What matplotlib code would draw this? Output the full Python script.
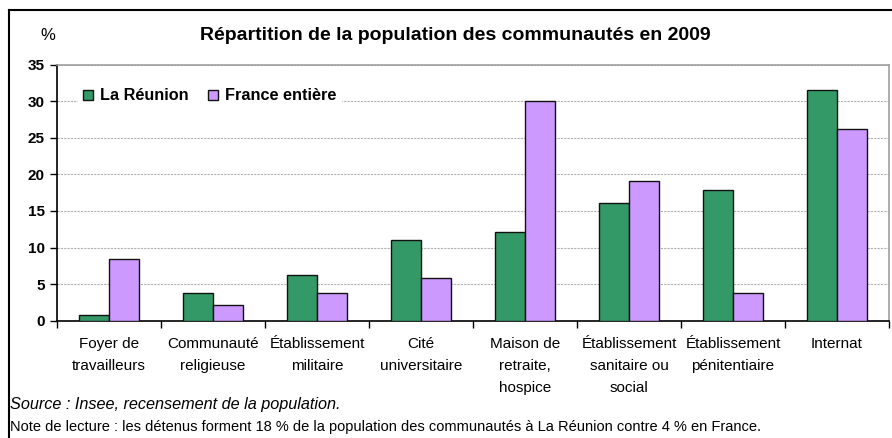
import matplotlib
matplotlib.use("Agg")
import matplotlib.pyplot as plt
import numpy as np
from matplotlib.lines import Line2D

categories = ["Foyer de\ntravailleurs", "Communauté\nreligieuse", "Établissement\nmilitaire",
              "Cité\nuniversitaire", "Maison de\nretraite,\nhospice", "Établissement\nsanitaire ou\nsocial",
              "Établissement\npénitentiaire", "Internat"]
reunion = [0.8, 3.8, 6.2, 11.1, 12.1, 16.1, 17.9, 31.5]
france = [8.5, 2.2, 3.8, 5.8, 30.1, 19.1, 3.8, 26.2]
series_names = ["La Réunion", "France entière"]
yticks = [0, 5, 10, 15, 20, 25, 30, 35]

plt.rcParams['font.family'] = ['Liberation Sans', 'DejaVu Sans']

W, H = 892, 438
fig = plt.figure(figsize=(W / 100, H / 100), dpi=100)
ax = fig.add_axes([57 / W, 1 - 320.7 / H, (889 - 57) / W, (320.7 - 64.7) / H])

x = np.arange(len(categories))
bw = 0.29
green = "#339966"
purple = "#CC99FF"
ax.bar(x - bw / 2, reunion, bw, color=green, edgecolor="#111111", linewidth=1.0, label=series_names[0], zorder=3)
ax.bar(x + bw / 2, france, bw, color=purple, edgecolor="#111111", linewidth=1.0, label=series_names[1], zorder=3)

ax.set_xlim(-0.5, len(categories) - 0.5)
ax.set_ylim(0, 35)
ax.set_yticks(yticks)
ax.set_yticklabels([str(v) for v in yticks], fontsize=11, fontweight="bold")
ax.set_xticks(x)
ax.set_xticklabels(categories, fontsize=11, linespacing=1.72, va="top")
ax.tick_params(axis="x", length=0, pad=12)
ax.set_xticks(np.arange(len(categories) + 1) - 0.5, minor=True)
ax.tick_params(axis="x", which="minor", length=5, width=1, color="black", direction="out")
ax.tick_params(axis="y", length=5, width=1, color="black", direction="out", pad=4)

ax.yaxis.grid(True, color="#b0b0b0", linestyle=(0, (2, 1)), linewidth=0.8, zorder=0)
ax.set_axisbelow(True)
for s in ["top", "right"]:
    ax.spines[s].set_color("#a0a0a0")
    ax.spines[s].set_linewidth(1.2)
for s in ["left", "bottom"]:
    ax.spines[s].set_color("black")
    ax.spines[s].set_linewidth(1.2)

leg = ax.legend(loc="center left", bbox_to_anchor=(78 / W, 1 - 96 / H), bbox_transform=fig.transFigure,
                ncol=2, frameon=True, fancybox=False, framealpha=1, edgecolor="white",
                prop={"weight": "bold", "size": 11.7}, handlelength=0.6, handleheight=0.6,
                handletextpad=0.45, columnspacing=1.2, borderpad=0.3, borderaxespad=0)
for h in leg.legend_handles:
    h.set_linewidth(1.0)

fig.text(455 / W, 1 - 36 / H, "Répartition de la population des communautés en 2009",
         ha="center", va="center", fontsize=14, fontweight="bold")
fig.text(48 / W, 1 - 36 / H, "%", ha="center", va="center", fontsize=12)
fig.text(10 / W, 1 - 405 / H, "Source : Insee, recensement de la population.",
         ha="left", va="center", fontsize=11.7, style="italic")
fig.text(10 / W, 1 - 427 / H,
         "Note de lecture : les détenus forment 18 % de la population des communautés à La Réunion contre 4 % en France.",
         ha="left", va="center", fontsize=10.5)

fig.add_artist(Line2D([9 / W, 1.0], [1 - 10 / H, 1 - 10 / H], transform=fig.transFigure, color="black", linewidth=1.5))
fig.add_artist(Line2D([9 / W, 9 / W], [0, 1 - 10 / H], transform=fig.transFigure, color="black", linewidth=1.5))

fig.savefig("out.png", dpi=100)
